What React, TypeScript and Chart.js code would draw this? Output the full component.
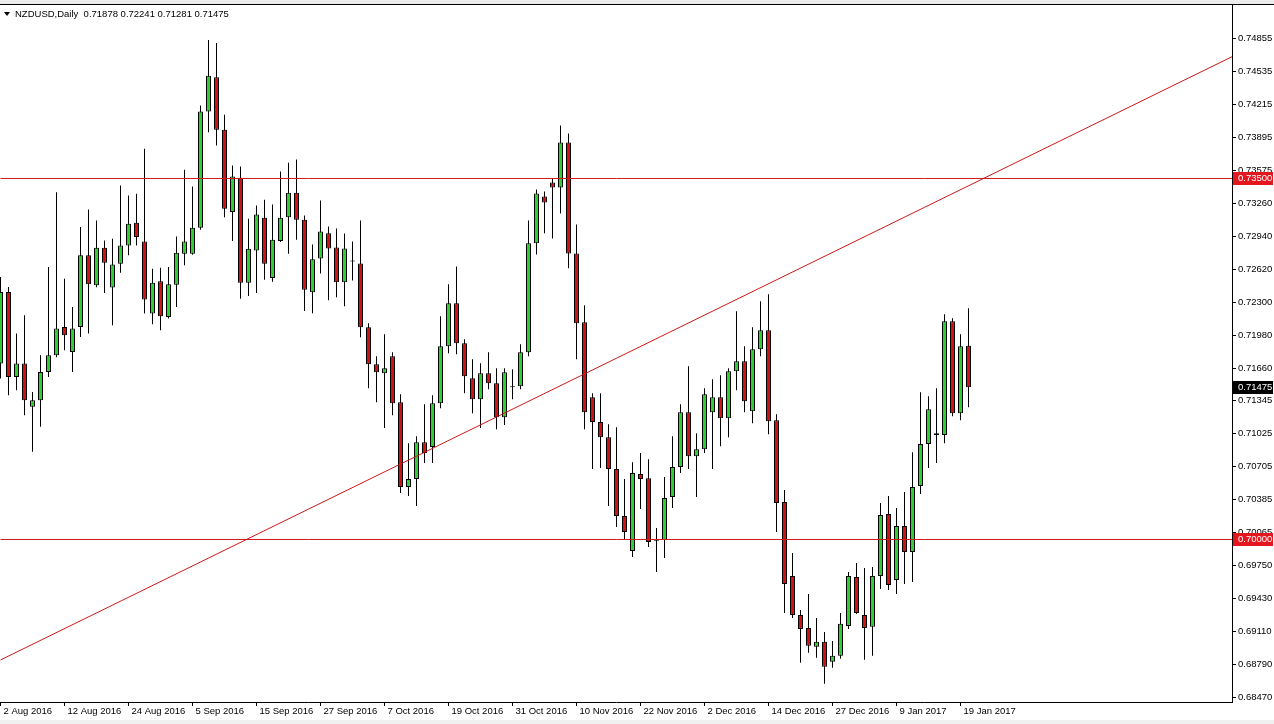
import { useEffect, useRef } from 'react';
import { Chart, registerables } from 'chart.js';

Chart.register(...registerables);

const symbol = 'NZDUSD';
const period = 'Daily';

const opens = [
  0.71706, 0.72399, 0.71576, 0.71706, 0.71286, 0.71351, 0.71625, 0.71786, 0.72060, 0.71818,
  0.72060, 0.72755, 0.72464, 0.72829, 0.72442, 0.72674, 0.72851, 0.73071, 0.72890, 0.72190,
  0.72503, 0.72157, 0.72471, 0.72771, 0.72771, 0.73023, 0.74149, 0.74481, 0.73972, 0.73174,
  0.73507, 0.72490, 0.72803, 0.73120, 0.72535, 0.72893, 0.73125, 0.73361, 0.73100, 0.72396,
  0.72725, 0.72968, 0.72832, 0.72493, 0.72696, 0.72677, 0.72057, 0.71699, 0.71612, 0.71777,
  0.71331, 0.70508, 0.70586, 0.70944, 0.70896, 0.71322, 0.71873, 0.72290, 0.71903, 0.71564,
  0.71360, 0.71612, 0.71515, 0.71186, 0.71477, 0.71486, 0.71815, 0.72871, 0.73326, 0.73461,
  0.73413, 0.73849, 0.72774, 0.72106, 0.71380, 0.71138, 0.70992, 0.70683, 0.70227, 0.69889,
  0.70634, 0.70595, 0.69990, 0.69995, 0.70411, 0.70702, 0.71234, 0.70808, 0.70876, 0.71234,
  0.71380, 0.71176, 0.71631, 0.71728, 0.71244, 0.71844, 0.72028, 0.71157, 0.70363, 0.69647,
  0.69269, 0.69143, 0.68959, 0.69008, 0.68814, 0.68872, 0.69162, 0.69637, 0.69269, 0.69153,
  0.69647, 0.70247, 0.69608, 0.70131, 0.69879, 0.70518, 0.70925, 0.71031, 0.71012, 0.72115,
  0.71225, 0.71878,
];

const highs = [
  0.72544, 0.72448, 0.71996, 0.72174, 0.71431, 0.71786, 0.72641, 0.73367, 0.72529, 0.72254,
  0.73029, 0.73200, 0.73093, 0.72900, 0.72916, 0.73432, 0.73335, 0.73352, 0.73788, 0.72626,
  0.72635, 0.72641, 0.72938, 0.73584, 0.73423, 0.74207, 0.74843, 0.74814, 0.74117, 0.73626,
  0.73616, 0.73110, 0.73239, 0.73294, 0.73248, 0.73568, 0.73652, 0.73684, 0.73142, 0.72861,
  0.73287, 0.73035, 0.73016, 0.72967, 0.72890, 0.73093, 0.72096, 0.71777, 0.71990, 0.71815,
  0.71409, 0.70934, 0.71002, 0.71312, 0.71399, 0.72164, 0.72474, 0.72648, 0.71941, 0.71748,
  0.71709, 0.71815, 0.71660, 0.71660, 0.71651, 0.71893, 0.73093, 0.73393, 0.73374, 0.73500,
  0.74013, 0.73936, 0.73055, 0.72270, 0.71418, 0.71418, 0.71118, 0.71089, 0.70586, 0.70750,
  0.70838, 0.70779, 0.70111, 0.70605, 0.71002, 0.71312, 0.71680, 0.71031, 0.71467, 0.71554,
  0.71593, 0.71660, 0.72212, 0.71873, 0.72057, 0.72309, 0.72377, 0.71215, 0.70479, 0.69869,
  0.69317, 0.69472, 0.69240, 0.69104, 0.69017, 0.69288, 0.69685, 0.69772, 0.69724, 0.69734,
  0.70353, 0.70421, 0.70305, 0.70460, 0.70847, 0.71428, 0.71389, 0.71467, 0.72183, 0.72145,
  0.71990, 0.72241,
];

const lows = [
  0.71561, 0.71399, 0.71447, 0.71205, 0.70850, 0.71092, 0.71576, 0.71767, 0.71835, 0.71625,
  0.71963, 0.71996, 0.72445, 0.72390, 0.72077, 0.72587, 0.72755, 0.72851, 0.72190, 0.72087,
  0.72028, 0.72142, 0.72254, 0.72658, 0.72760, 0.73003, 0.73948, 0.73820, 0.73125, 0.72893,
  0.72335, 0.72360, 0.72390, 0.72519, 0.72500, 0.72884, 0.72771, 0.72907, 0.72215, 0.72193,
  0.72580, 0.72319, 0.72348, 0.72261, 0.72512, 0.71961, 0.71467, 0.71331, 0.71080, 0.71205,
  0.70450, 0.70421, 0.70324, 0.70741, 0.70741, 0.71273, 0.71806, 0.71796, 0.71418, 0.71225,
  0.71080, 0.71457, 0.71070, 0.71109, 0.71360, 0.71457, 0.71777, 0.72764, 0.72968, 0.72919,
  0.73161, 0.72629, 0.71748, 0.71070, 0.70683, 0.70692, 0.70324, 0.70121, 0.69995, 0.69831,
  0.70295, 0.69927, 0.69685, 0.69821, 0.70305, 0.70644, 0.70683, 0.70411, 0.70838, 0.70683,
  0.70905, 0.70992, 0.71447, 0.71234, 0.71128, 0.71777, 0.71021, 0.70073, 0.69288, 0.69240,
  0.68804, 0.68901, 0.68853, 0.68601, 0.68756, 0.68843, 0.69133, 0.69278, 0.68833, 0.68872,
  0.69521, 0.69511, 0.69472, 0.69569, 0.69588, 0.70441, 0.70692, 0.70741, 0.70934, 0.71196,
  0.71157, 0.71281,
];

const closes = [
  0.72399, 0.71576, 0.71706, 0.71351, 0.71351, 0.71625, 0.71786, 0.72045, 0.71980, 0.72045,
  0.72755, 0.72474, 0.72829, 0.72684, 0.72665, 0.72851, 0.73062, 0.72932, 0.72326, 0.72490,
  0.72164, 0.72474, 0.72781, 0.72890, 0.73023, 0.74149, 0.74497, 0.73972, 0.73207, 0.73519,
  0.72490, 0.72819, 0.73152, 0.72674, 0.72907, 0.73120, 0.73361, 0.73100, 0.72422, 0.72716,
  0.72987, 0.72822, 0.72493, 0.72822, 0.72700, 0.72057, 0.71699, 0.71622, 0.71660, 0.71322,
  0.70508, 0.70586, 0.70944, 0.70838, 0.71322, 0.71873, 0.72290, 0.71903, 0.71583, 0.71360,
  0.71612, 0.71515, 0.71186, 0.71622, 0.71480, 0.71815, 0.72871, 0.73355, 0.73268, 0.73413,
  0.73849, 0.72774, 0.72096, 0.71234, 0.71138, 0.70992, 0.70683, 0.70227, 0.70073, 0.70644,
  0.70586, 0.69976, 0.69982, 0.70402, 0.70702, 0.71234, 0.70808, 0.70876, 0.71409, 0.71380,
  0.71176, 0.71631, 0.71728, 0.71341, 0.71844, 0.72028, 0.71147, 0.70353, 0.69569, 0.69269,
  0.69133, 0.68969, 0.69008, 0.68766, 0.68872, 0.69182, 0.69647, 0.69288, 0.69143, 0.69647,
  0.70237, 0.69559, 0.70131, 0.69879, 0.70508, 0.70925, 0.71263, 0.71012, 0.72115, 0.71225,
  0.71873, 0.71475,
];

const xTickIndex = [0, 8, 16, 24, 32, 40, 48, 56, 64, 72, 80, 88, 96, 104, 112, 120];
const xTickLabels = [
  '2 Aug 2016', '12 Aug 2016', '24 Aug 2016', '5 Sep 2016', '15 Sep 2016', '27 Sep 2016',
  '7 Oct 2016', '19 Oct 2016', '31 Oct 2016', '10 Nov 2016', '22 Nov 2016', '2 Dec 2016',
  '14 Dec 2016', '27 Dec 2016', '9 Jan 2017', '19 Jan 2017',
];
const yTickValues = [
  0.74855, 0.74535, 0.74215, 0.73895, 0.73575, 0.7326, 0.7294, 0.7262, 0.723, 0.7198,
  0.7166, 0.71345, 0.71025, 0.70705, 0.70385, 0.70065, 0.6975, 0.6943, 0.6911, 0.6879, 0.6847,
];

const levelPrices = [0.735, 0.7];
const trendIndex = [0, 154];
const trendPrices = [0.68832, 0.74683];

const BULL = '#32cd32';
const BEAR = '#cc1414';
const LINE_RED = '#d01818';
const BOX_RED = '#e4161e';
const FONT = 'Liberation Sans';

export default function App() {
  const ref = useRef<HTMLCanvasElement>(null);

  useEffect(() => {
    const canvas = ref.current;
    if (!canvas) return;
    const bodies = opens.map((o, i) => ({ x: i, y: [o, closes[i]] }));
    const wicks = lows.map((l, i) => ({ x: i, y: [l, highs[i]] }));
    const colors = opens.map((o, i) => (closes[i] >= o ? BULL : BEAR));
    const last = opens.length - 1;

    const overlay = {
      id: 'overlay',
      beforeDraw(chart: any) {
        const ctx = chart.ctx;
        ctx.save();
        ctx.fillStyle = '#ffffff';
        ctx.fillRect(0, 0, chart.width, chart.height);
        ctx.restore();
      },
      afterDraw(chart: any) {
        const ctx = chart.ctx;
        const ys = chart.scales.y;
        const area = chart.chartArea;
        ctx.save();
        // window chrome
        ctx.fillStyle = '#ececec';
        ctx.fillRect(0, 0, chart.width, 4);
        ctx.fillStyle = '#000';
        ctx.fillRect(0, 4, chart.width, 1);
        ctx.fillStyle = '#f0f0f0';
        ctx.fillRect(0, 720, chart.width, 4);

        // title
        ctx.fillStyle = '#000';
        ctx.beginPath();
        ctx.moveTo(4, 12);
        ctx.lineTo(10, 12);
        ctx.lineTo(7, 16);
        ctx.closePath();
        ctx.fill();
        ctx.font = `9.5px "${FONT}"`;
        ctx.textBaseline = 'middle';
        ctx.textAlign = 'left';
        const title = `${symbol},${period}  ${opens[last].toFixed(5)} ${highs[last].toFixed(5)} ${lows[last].toFixed(5)} ${closes[last].toFixed(5)}`;
        ctx.fillText(title, 15, 14);

        // price boxes
        const drawBox = (price: number, bg: string) => {
          const py = Math.round(ys.getPixelForValue(price));
          ctx.fillStyle = bg;
          ctx.fillRect(area.right + 1, py - 6, 40, 13);
          ctx.fillStyle = '#fff';
          ctx.fillText(price.toFixed(5), area.right + 6, py + 0.5);
        };
        levelPrices.forEach((p) => drawBox(p, BOX_RED));
        drawBox(closes[last], '#000');
        ctx.restore();
      },
    };

    const chart = new Chart(canvas, {
      type: 'bar',
      data: {
        datasets: [
          ...levelPrices.map((p) => ({
            type: 'line' as const,
            data: trendIndex.map((x) => ({ x, y: p })),
            borderColor: LINE_RED,
            borderWidth: 1,
            pointRadius: 0,
            fill: false,
          })),
          {
            type: 'line' as const,
            data: trendIndex.map((x, k) => ({ x, y: trendPrices[k] })),
            borderColor: LINE_RED,
            borderWidth: 1,
            pointRadius: 0,
            fill: false,
          },
          {
            type: 'bar' as const,
            data: bodies as any,
            backgroundColor: colors,
            borderColor: '#000',
            borderWidth: 1,
            borderSkipped: false,
            barThickness: 5,
            grouped: false,
            minBarLength: 1,
            inflateAmount: 0,
          },
          {
            type: 'bar' as const,
            data: wicks as any,
            backgroundColor: '#000',
            borderWidth: 0,
            barThickness: 1,
            grouped: false,
            inflateAmount: 0,
          },
        ],
      },
      options: {
        animation: false,
        responsive: false,
        devicePixelRatio: 1,
        events: [],
        layout: { padding: { top: 5, left: 0, right: 0, bottom: 0 } },
        plugins: {
          legend: { display: false },
          tooltip: { enabled: false },
          title: { display: false },
        },
        scales: {
          x: {
            type: 'linear',
            min: -0.0625,
            max: 153.9375,
            offset: false,
            grid: {
              display: true,
              drawOnChartArea: false,
              drawTicks: true,
              tickLength: 4,
              color: '#000',
              offset: false,
            },
            border: { display: true, color: '#000', width: 1 },
            ticks: {
              autoSkip: false,
              maxRotation: 0,
              minRotation: 0,
              align: 'start',
              labelOffset: 3,
              padding: 0,
              color: '#000',
              font: { family: FONT, size: 9.5 },
              callback: (_v: any, i: number) => xTickLabels[i] ?? '',
            },
            afterBuildTicks: (s: any) => {
              s.ticks = xTickIndex.map((v) => ({ value: v }));
            },
            afterFit: (s: any) => {
              s.height = 22;
              s.paddingLeft = 0;
              s.paddingRight = 0;
            },
          },
          y: {
            type: 'linear',
            position: 'right',
            min: 0.684245,
            max: 0.751821,
            grid: {
              display: true,
              drawOnChartArea: false,
              drawTicks: true,
              tickLength: 4,
              color: '#000',
            },
            border: { display: true, color: '#000', width: 1 },
            ticks: {
              autoSkip: false,
              padding: 2,
              color: '#000',
              font: { family: FONT, size: 9.5 },
              callback: (v: any) => Number(v).toFixed(5),
            },
            afterBuildTicks: (s: any) => {
              s.ticks = yTickValues.map((v) => ({ value: v }));
            },
            afterFit: (s: any) => {
              s.width = 42;
              s.paddingTop = 0;
              s.paddingBottom = 0;
            },
          },
        },
      } as any,
      plugins: [overlay],
    });

    return () => chart.destroy();
  }, []);

  return (
    <div style={{ position: 'absolute', left: 0, top: 0, width: 1274, height: 724, background: '#fff' }}>
      <canvas ref={ref} width={1274} height={724} style={{ display: 'block', width: 1274, height: 724 }} />
    </div>
  );
}
